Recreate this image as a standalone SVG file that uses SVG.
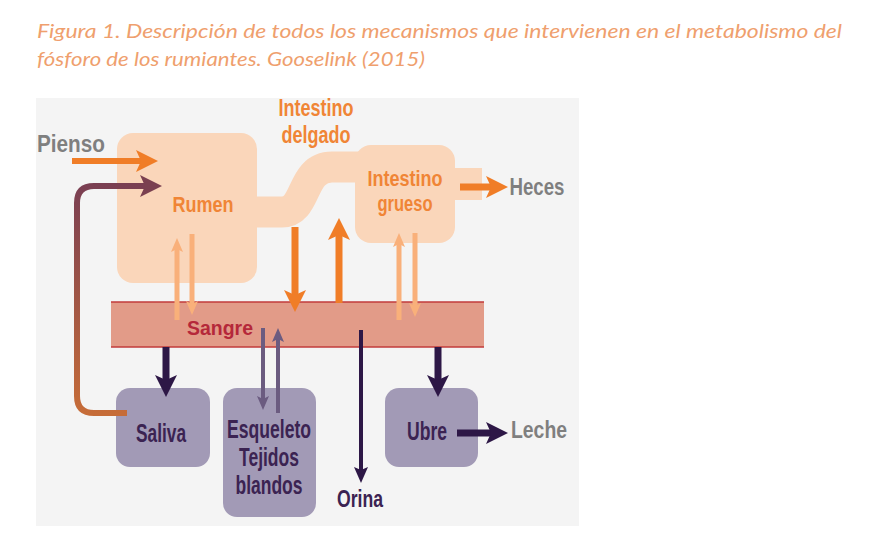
<svg xmlns="http://www.w3.org/2000/svg" width="893" height="555" viewBox="0 0 893 555">
<style>
.cap{font-family:Lato,"Liberation Sans",sans-serif;font-style:italic;font-size:19px;fill:#EF9F6E}
.lbl{font-family:"Liberation Sans Narrow","Liberation Sans",sans-serif;font-weight:bold;text-anchor:middle}
.gray{fill:#7F7F7F;font-size:24px}
.org{fill:#F08536}
.pur{fill:#3B2352;font-size:25px}
.sh{fill:none;stroke-linecap:butt}
</style>
<defs>
<marker id="mOrange" viewBox="0 0 22 22" markerWidth="22" markerHeight="22" refX="6" refY="11" orient="auto" markerUnits="userSpaceOnUse"><path d="M0,0 L22,11 L0,22 L5,11 Z" fill="#F07D27"/></marker>
<marker id="mDark" viewBox="0 0 22 22" markerWidth="22" markerHeight="22" refX="6" refY="11" orient="auto" markerUnits="userSpaceOnUse"><path d="M0,0 L22,11 L0,22 L5,11 Z" fill="#2D1746"/></marker>
<marker id="mBrown" viewBox="0 0 22 22" markerWidth="22" markerHeight="22" refX="6" refY="11" orient="auto" markerUnits="userSpaceOnUse"><path d="M0,0 L22,11 L0,22 L5,11 Z" fill="#7A4050"/></marker>
<marker id="mLight" viewBox="0 0 14 12" markerWidth="14" markerHeight="12" refX="4" refY="6" orient="auto" markerUnits="userSpaceOnUse"><path d="M0,0 L14,6 L0,12 L3,6 Z" fill="#F9B07A"/></marker>
<marker id="mMuted" viewBox="0 0 14 12" markerWidth="14" markerHeight="12" refX="4" refY="6" orient="auto" markerUnits="userSpaceOnUse"><path d="M0,0 L14,6 L0,12 L3,6 Z" fill="#6B5B80"/></marker>
<marker id="mOrina" viewBox="0 0 16 14" markerWidth="16" markerHeight="14" refX="4" refY="7" orient="auto" markerUnits="userSpaceOnUse"><path d="M0,0 L16,7 L0,14 L3,7 Z" fill="#2D1746"/></marker>
<linearGradient id="gRec" gradientUnits="userSpaceOnUse" x1="0" y1="186" x2="0" y2="413">
<stop offset="0" stop-color="#7A3F52"/>
<stop offset="1" stop-color="#C66C38"/>
</linearGradient>
</defs>

<rect x="0" y="0" width="893" height="555" fill="#FFFFFF"/>
<g id="caption">
<text class="cap" x="37" y="38" textLength="805" lengthAdjust="spacingAndGlyphs">Figura 1. Descripción de todos los mecanismos que intervienen en el metabolismo del</text>
<text class="cap" x="37" y="66" textLength="388" lengthAdjust="spacingAndGlyphs">fósforo de los rumiantes. Gooselink (2015)</text>
</g>

<rect x="36" y="98" width="543" height="428" fill="#F4F4F4"/>

<g id="digestive">
<path d="M250,212 L282,212 C308,212 300,167 332,167 L365,167" fill="none" stroke="#FAD6BA" stroke-width="31"/>
<rect x="455" y="168" width="27" height="32" fill="#FAD6BA"/>
</g>
<g id="rumen">
<rect x="117" y="133" width="140" height="150" rx="16" fill="#FAD6BA"/>
<text class="lbl org" x="203" y="212" font-size="22" textLength="61" lengthAdjust="spacingAndGlyphs">Rumen</text>
</g>
<g id="intestino-grueso">
<rect x="355" y="145" width="100" height="98" rx="16" fill="#FAD6BA"/>
<text class="lbl org" x="405" y="186" font-size="22" textLength="75" lengthAdjust="spacingAndGlyphs">Intestino</text>
<text class="lbl org" x="405" y="211" font-size="22" textLength="55" lengthAdjust="spacingAndGlyphs">grueso</text>
</g>
<g id="intestino-delgado">
<text class="lbl org" x="316" y="116" font-size="24" textLength="75" lengthAdjust="spacingAndGlyphs">Intestino</text>
<text class="lbl org" x="316" y="143" font-size="24" textLength="69" lengthAdjust="spacingAndGlyphs">delgado</text>
</g>
<g id="sangre">
<rect x="111" y="302" width="373" height="45" fill="#E29B88"/>
<line x1="111" y1="302" x2="484" y2="302" stroke="#C23B3B" stroke-width="1.5"/>
<line x1="111" y1="347" x2="484" y2="347" stroke="#C23B3B" stroke-width="1.5"/>
</g>
<g id="saliva">
<rect x="116" y="388" width="94" height="79" rx="14" fill="#A29AB6"/>
<text class="lbl pur" x="161" y="442" textLength="50" lengthAdjust="spacingAndGlyphs">Saliva</text>
</g>
<g id="esqueleto">
<rect x="223" y="388" width="93" height="129" rx="14" fill="#A29AB6"/>
<text class="lbl pur" x="269" y="438" textLength="84" lengthAdjust="spacingAndGlyphs">Esqueleto</text>
<text class="lbl pur" x="269" y="466" textLength="60" lengthAdjust="spacingAndGlyphs">Tejidos</text>
<text class="lbl pur" x="269" y="494" textLength="67" lengthAdjust="spacingAndGlyphs">blandos</text>
</g>
<g id="ubre">
<rect x="385" y="388" width="93" height="79" rx="14" fill="#A29AB6"/>
<text class="lbl pur" x="427" y="440" textLength="40" lengthAdjust="spacingAndGlyphs">Ubre</text>
</g>

<g id="connectors">
<line class="sh" x1="72" y1="161" x2="142" y2="161" stroke="#F07D27" stroke-width="6" marker-end="url(#mOrange)"/>
<path class="sh" d="M127,413 L94,413 Q77,413 77,396 L77,203 Q77,186 94,186 L146,186" stroke="url(#gRec)" stroke-width="6" marker-end="url(#mBrown)"/>
<line class="sh" x1="177" y1="320" x2="177" y2="248" stroke="#F9B07A" stroke-width="5" marker-end="url(#mLight)"/>
<line class="sh" x1="192" y1="234" x2="192" y2="305" stroke="#F9B07A" stroke-width="5" marker-end="url(#mLight)"/>
<line class="sh" x1="295" y1="227" x2="295" y2="296" stroke="#F07D27" stroke-width="7" marker-end="url(#mOrange)"/>
<line class="sh" x1="339" y1="303" x2="339" y2="234" stroke="#F07D27" stroke-width="7" marker-end="url(#mOrange)"/>
<line class="sh" x1="399" y1="320" x2="399" y2="243" stroke="#F9B07A" stroke-width="5" marker-end="url(#mLight)"/>
<line class="sh" x1="415" y1="233" x2="415" y2="307" stroke="#F9B07A" stroke-width="5" marker-end="url(#mLight)"/>
<line class="sh" x1="460" y1="187" x2="492" y2="187" stroke="#F07D27" stroke-width="7" marker-end="url(#mOrange)"/>
<line class="sh" x1="166" y1="347" x2="166" y2="381" stroke="#2D1746" stroke-width="7" marker-end="url(#mDark)"/>
<line class="sh" x1="438" y1="347" x2="438" y2="381" stroke="#2D1746" stroke-width="7" marker-end="url(#mDark)"/>
<line class="sh" x1="457" y1="433" x2="492" y2="433" stroke="#2D1746" stroke-width="7" stroke-linecap="round" marker-end="url(#mDark)"/>
<line class="sh" x1="263" y1="328" x2="263" y2="400" stroke="#6B5B80" stroke-width="4" marker-end="url(#mMuted)"/>
<line class="sh" x1="278" y1="413" x2="278" y2="338" stroke="#6B5B80" stroke-width="4" marker-end="url(#mMuted)"/>
<line class="sh" x1="361" y1="330" x2="361" y2="471" stroke="#2D1746" stroke-width="4" marker-end="url(#mOrina)"/>
</g>

<g id="labels">
<text class="lbl gray" x="71" y="152" textLength="68" lengthAdjust="spacingAndGlyphs">Pienso</text>
<text class="lbl gray" x="537" y="195" textLength="55" lengthAdjust="spacingAndGlyphs">Heces</text>
<text class="lbl gray" x="539" y="438" textLength="56" lengthAdjust="spacingAndGlyphs">Leche</text>
<text class="lbl" x="360" y="507" font-size="24" fill="#3B2352" textLength="46" lengthAdjust="spacingAndGlyphs">Orina</text>
<text class="lbl" x="220" y="335" font-size="21" fill="#B5283A" textLength="66" lengthAdjust="spacingAndGlyphs">Sangre</text>
</g>
</svg>
